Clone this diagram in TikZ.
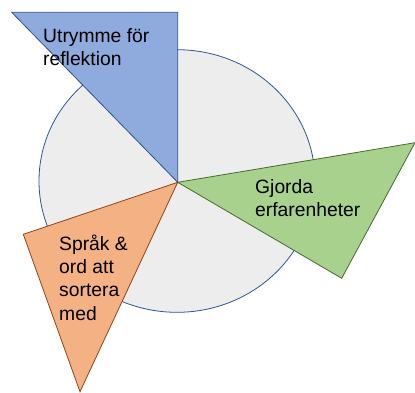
\documentclass[tikz,border=0pt]{standalone}
\usepackage{fontspec}
\setmainfont{Liberation Sans}
\usepackage{tikz}

\definecolor{pieGray}{HTML}{EDEDED}
\definecolor{pieLine}{HTML}{2F5597}
\definecolor{blueFill}{HTML}{8FAADC}
\definecolor{blueLine}{HTML}{2F528F}
\definecolor{greenFill}{HTML}{A9D18E}
\definecolor{greenLine}{HTML}{46692C}
\definecolor{orangeFill}{HTML}{F4B183}
\definecolor{orangeLine}{HTML}{8F4515}

\tikzset{
  wedge/.style={line width=0.8pt, line join=miter},
  label/.style={anchor=base west, inner sep=0pt, align=left,
    font=\fontsize{19.3}{23.3}\selectfont}
}

\begin{document}
\begin{tikzpicture}[x=1pt,y=-1pt]
        \useasboundingbox (0,0) rectangle (415,392);
        %
        \coordinate (mid) at (177.7,182.3);
        \draw [wedge, fill=pieGray, draw=pieLine] (177,181) ellipse [x radius=138, y radius=131.3];
        %
        \draw [wedge, fill=blueFill, draw=blueLine]
        (mid) -- (11.7,12.3) -- (177.7,12.3) -- cycle;
        \draw [wedge, fill=greenFill, draw=greenLine]
        (mid) -- (415,142.7) -- (341.7,278.3) -- cycle;
        \draw [wedge, fill=orangeFill, draw=orangeLine]
        (mid) -- (23.3,234.3) -- (80,391.7) -- cycle;
        %
        % base anchor sits on the last line
        \node [label] (reflektion) at (43,65.3) {Utrymme för\\reflektion};
        \node [label] (erfarenheter) at (255,216.3) {Gjorda\\erfarenheter};
        \node [label] (sprak) at (59,320) {Språk \&\\ord att\\sortera\\med};
      \end{tikzpicture}
\end{document}
